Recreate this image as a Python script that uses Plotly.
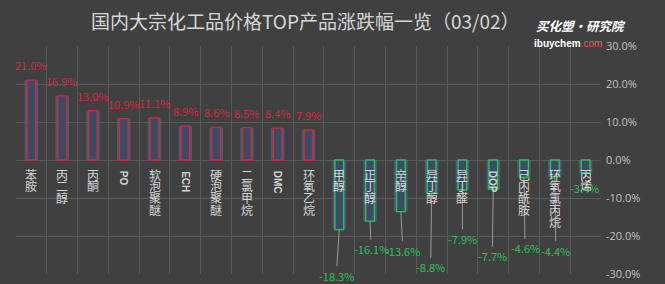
import plotly.graph_objects as go

categories = ["苯胺", "丙二醇", "丙酮", "PO", "软泡聚醚", "ECH", "硬泡聚醚", "二氯甲烷", "DMC", "环氧乙烷",
              "甲醇", "正丁醇", "辛醇", "异丁醇", "异丁醛", "DOP", "己内酰胺", "环氧氯丙烷", "丙烯"]
changes = [21.0, 16.9, 13.0, 10.9, 11.1, 8.9, 8.6, 8.5, 8.4, 7.9,
           -18.3, -16.1, -13.6, -8.8, -7.9, -7.7, -4.6, -4.4, -3.4]
y_ticks = [30, 20, 10, 0, -10, -20, -30]
title_text = "国内大宗化工品价格TOP产品涨跌幅一览（03/02）"

# label placement (pixel offsets) for negative value labels
neg_label_offsets = [(-3, 46), (1, 28), (2, 39), (-1, 74), (0, 49), (-1, 67), (1, 71), (1, 74), (-1, 15)]

BG = "#404040"
GRID = "#595959"
RED = "#d8283c"
GREEN = "#2fc05a"
FONT = "Noto Sans CJK SC"

L, R, T, B = 16, 64, 46, 10
W, H = 665, 284
pw, ph = W - L - R, H - T - B

outline = [RED if v >= 0 else GREEN for v in changes]

fig = go.Figure()
fig.add_trace(go.Bar(x=categories, y=changes, width=0.44,
                     marker=dict(color="rgba(78,118,168,0.5)", line=dict(width=0)),
                     hoverinfo="skip", showlegend=False))
fig.add_trace(go.Bar(x=categories, y=changes, width=0.28,
                     marker=dict(color="#3b4b63", line=dict(color=outline, width=1.3)),
                     hoverinfo="skip", showlegend=False))

ann = []
ni = 0
for c, v in zip(categories, changes):
    if v >= 0:
        ann.append(dict(x=c, y=v, xref="x", yref="y", text=f"{v:.1f}%", showarrow=False,
                        yanchor="bottom", yshift=5, font=dict(color=RED, size=11, family=FONT)))
    else:
        ax, ay = neg_label_offsets[ni]
        ni += 1
        ann.append(dict(x=c, y=v, xref="x", yref="y", text=f"{v:.1f}%", showarrow=True,
                        arrowhead=0, arrowwidth=1, arrowcolor="#9a9a9a", ax=ax, ay=ay,
                        standoff=0, font=dict(color=GREEN, size=11, family=FONT)))
    # category label (vertical)
    if c.isascii():
        ann.append(dict(x=c, y=0, xref="x", yref="y", text=f"<b>{c}</b>", showarrow=False,
                        textangle=90, yanchor="top", yshift=-9,
                        font=dict(color="#d4d4d4", size=10, family="Liberation Sans")))
    else:
        for i, ch in enumerate(c):
            ann.append(dict(x=c, y=0, xref="x", yref="y", text=ch, showarrow=False,
                            yanchor="middle", yshift=-(14 + i * 11.8),
                            font=dict(color="#d4d4d4", size=12, family=FONT)))

def px_x(p):
    return (p - L) / pw

def px_y(p):
    return (H - B - p) / ph

ann.append(dict(x=px_x(305), y=px_y(20), xref="paper", yref="paper", text=title_text,
                showarrow=False, xanchor="center", yanchor="middle",
                font=dict(color="#d6d6d6", size=19, family=FONT)))
ann.append(dict(x=px_x(534), y=px_y(25), xref="paper", yref="paper",
                text="<b><i>买化塑·研究院</i></b>", showarrow=False, xanchor="left", yanchor="middle",
                font=dict(color="#ffffff", size=12.5, family=FONT)))
ann.append(dict(x=px_x(532), y=px_y(43), xref="paper", yref="paper",
                text="<b>ibuychem</b><span style='color:#e0604e'>.com</span>", showarrow=False,
                xanchor="left", yanchor="middle",
                font=dict(color="#ffffff", size=10, family="Liberation Sans")))

fig.update_layout(
    width=W, height=H, margin=dict(l=L, r=R, t=T, b=B, autoexpand=False),
    paper_bgcolor=BG, plot_bgcolor=BG, barmode="overlay",
    annotations=ann,
    xaxis=dict(type="category", tickson="boundaries", showgrid=True, gridcolor=GRID, gridwidth=1,
               showticklabels=False, ticks="", range=[-0.5, len(categories) - 0.5],
               showline=False, zeroline=False, fixedrange=True, automargin=False),
    yaxis=dict(side="right", range=[-30, 30], tickvals=y_ticks,
               ticktext=[f"{t:.1f}%" for t in y_ticks],
               showgrid=True, gridcolor=GRID, zeroline=True, zerolinecolor=GRID, zerolinewidth=1,
               tickfont=dict(color="#c0c0c0", size=11, family="Open Sans"), showline=False,
               ticklabelstandoff=4, automargin=False, fixedrange=True),
)

fig.write_html("out.html")
